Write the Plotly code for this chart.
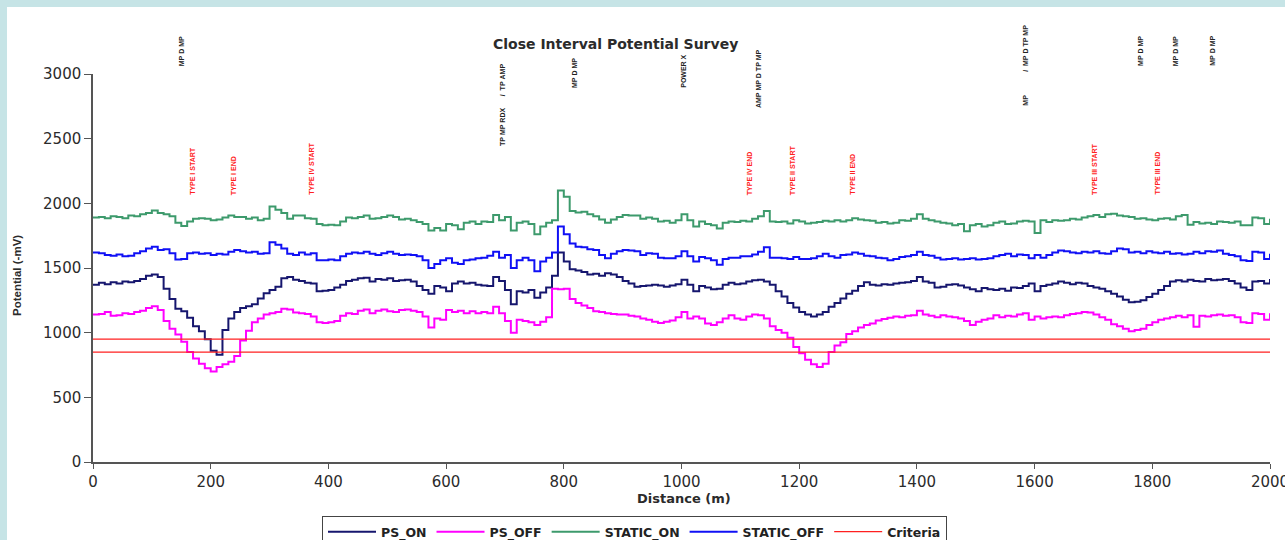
import plotly.graph_objects as go

# ---------------- data ----------------
distance_m = list(range(0, 2001, 10))

static_on = [
    1890, 1895, 1885, 1900, 1895, 1885, 1905, 1900, 1915, 1925,
    1945, 1925, 1915, 1900, 1850, 1825, 1860, 1880, 1885, 1880,
    1870, 1875, 1890, 1905, 1895, 1895, 1880, 1890, 1870, 1880,
    1975, 1950, 1925, 1880, 1905, 1905, 1885, 1880, 1840, 1830,
    1835, 1830, 1860, 1890, 1885, 1895, 1905, 1880, 1885, 1895,
    1905, 1895, 1875, 1880, 1870, 1855, 1840, 1790, 1810, 1790,
    1840, 1830, 1800, 1850, 1860, 1840, 1860, 1855, 1910, 1870,
    1895, 1790, 1850, 1860, 1840, 1760, 1820, 1850, 1870, 2100,
    2050,
    1940, 1930, 1935, 1915, 1900, 1875, 1850, 1875, 1895, 1910,
    1905, 1905, 1880, 1890, 1880, 1860, 1865, 1850, 1870, 1915,
    1870, 1820, 1860, 1840, 1830, 1805, 1850, 1860, 1855, 1865,
    1860, 1880, 1900, 1940, 1860, 1855, 1860, 1845, 1870, 1860,
    1845, 1850, 1855, 1865, 1860, 1870, 1860, 1870, 1885, 1875,
    1870, 1865, 1850, 1855, 1845, 1850, 1870, 1865, 1880, 1915,
    1880, 1870, 1860, 1850, 1845, 1830, 1840, 1785, 1830, 1840,
    1820, 1830, 1850, 1860, 1840, 1845, 1860, 1865, 1860, 1770,
    1870, 1855, 1870, 1865, 1870, 1880, 1875, 1890, 1900, 1910,
    1895, 1915, 1920, 1905, 1900, 1895, 1880, 1885, 1875, 1870,
    1880, 1885, 1875, 1900, 1910, 1835, 1855, 1845, 1850, 1840,
    1860, 1855, 1850, 1860, 1830, 1830, 1890, 1885, 1840, 1880,
]

static_off = [
    1620, 1615, 1600, 1595, 1605, 1590, 1595, 1615, 1630, 1650,
    1665, 1640, 1645, 1615, 1565, 1570, 1615, 1620, 1610, 1615,
    1600, 1610, 1605, 1625, 1640, 1630, 1620, 1625, 1610, 1615,
    1700, 1680, 1650, 1610, 1600, 1620, 1605, 1615, 1560, 1560,
    1565, 1560, 1590, 1610, 1620, 1615, 1625, 1610, 1600, 1615,
    1625, 1610, 1600, 1605, 1600, 1590, 1560, 1500, 1530, 1560,
    1575, 1540, 1530, 1560, 1565, 1575, 1580, 1595, 1625, 1580,
    1600, 1500, 1560, 1580, 1560, 1475, 1550, 1580, 1620, 1820,
    1760,
    1690, 1665, 1660, 1645, 1640, 1600, 1575, 1610, 1630, 1640,
    1635, 1630, 1600, 1615, 1610, 1580, 1575, 1575, 1590, 1630,
    1590, 1550, 1585, 1575, 1560, 1525, 1570, 1580, 1580, 1590,
    1590, 1605, 1625, 1660, 1580, 1580, 1575, 1570, 1585, 1570,
    1570, 1575, 1590, 1610, 1590, 1580, 1600, 1605, 1620, 1610,
    1595, 1590, 1580, 1575, 1560, 1570, 1585, 1590, 1600, 1625,
    1600, 1595, 1580, 1565, 1570, 1575, 1565, 1570, 1575, 1565,
    1570, 1575, 1590, 1600, 1610, 1590, 1605, 1600, 1575, 1600,
    1580, 1600, 1620, 1635, 1630, 1620, 1615, 1625, 1620, 1630,
    1615, 1610, 1630, 1650, 1645, 1620, 1625, 1615, 1630, 1620,
    1615, 1625, 1610, 1615, 1605, 1610, 1625, 1615, 1630, 1625,
    1635, 1610, 1600, 1590, 1560, 1555, 1625, 1620, 1570, 1610,
]

ps_on = [
    1370, 1385, 1375, 1390, 1380, 1395, 1390, 1400, 1415, 1440,
    1450, 1430, 1340, 1260, 1185, 1165, 1115, 1050, 1010, 950,
    860, 830, 1020, 1110, 1160, 1190, 1205, 1220, 1265, 1305,
    1330, 1355, 1420, 1430, 1410, 1400, 1385, 1380, 1320, 1325,
    1330, 1350, 1370, 1400, 1410, 1420, 1425, 1395, 1415, 1410,
    1420, 1400, 1405, 1410, 1395, 1360, 1330, 1300, 1360, 1350,
    1320, 1380, 1395, 1380, 1385, 1370, 1365, 1360, 1430, 1400,
    1330, 1220, 1320, 1310, 1330, 1270, 1310, 1350, 1440, 1620,
    1550,
    1490, 1480, 1470, 1450, 1455, 1440, 1460, 1450, 1430, 1400,
    1380, 1355, 1360, 1365, 1370, 1365, 1355, 1365, 1375, 1410,
    1370, 1320, 1360, 1350, 1335, 1340, 1370, 1385, 1375, 1380,
    1395, 1405, 1410, 1395, 1370, 1320, 1280, 1230, 1195, 1160,
    1140, 1125, 1140, 1160, 1200, 1230, 1265, 1300, 1325, 1360,
    1390, 1370, 1365, 1375, 1370, 1380, 1385, 1390, 1400, 1430,
    1395, 1385, 1350, 1355, 1370, 1375, 1365, 1350, 1335, 1320,
    1345, 1335, 1330, 1340, 1325, 1350, 1345, 1360, 1380, 1320,
    1360, 1370, 1380, 1395, 1385, 1375, 1385, 1380, 1360, 1350,
    1340, 1320, 1300, 1280, 1255, 1235, 1240, 1250, 1275, 1300,
    1330, 1360, 1395, 1405, 1395, 1410, 1400, 1395, 1415, 1405,
    1410, 1415, 1400, 1380, 1350, 1330, 1395, 1400, 1380, 1415,
]

ps_off = [
    1140, 1145, 1160, 1130, 1135, 1150, 1145, 1160, 1170, 1190,
    1205, 1175, 1090, 1030, 985, 930, 850, 800, 760, 725,
    700, 735, 755, 775, 820, 940, 1015, 1080, 1110, 1140,
    1150, 1160, 1185, 1180, 1155, 1150, 1145, 1125, 1080, 1075,
    1080, 1090, 1130, 1150, 1145, 1170, 1180, 1150, 1170, 1180,
    1165, 1160, 1175, 1180, 1170, 1160, 1125, 1040, 1110, 1100,
    1175, 1160, 1170, 1150, 1165, 1150, 1160, 1150, 1200, 1150,
    1090, 1000, 1100, 1090, 1080, 1060, 1085, 1120, 1340, 1335,
    1340,
    1260, 1230, 1210, 1190, 1165, 1160, 1150, 1145, 1140, 1140,
    1130, 1125, 1110, 1100, 1085, 1075, 1085, 1095, 1120, 1160,
    1110, 1125, 1110, 1070, 1060, 1080, 1110, 1135, 1110, 1100,
    1125, 1140, 1135, 1110, 1050, 1020, 1000, 960, 890, 840,
    790, 755, 735, 760, 850, 900, 925, 990, 1010, 1040,
    1060, 1070, 1095, 1105, 1115, 1125, 1120, 1130, 1135, 1170,
    1140, 1130, 1120, 1135, 1125, 1120, 1110, 1090, 1060, 1085,
    1100, 1110, 1135, 1120, 1130, 1125, 1140, 1150, 1100, 1125,
    1110, 1120, 1125, 1120, 1135, 1145, 1150, 1160, 1155, 1140,
    1120, 1100, 1065, 1050, 1030, 1010, 1020, 1030, 1060, 1080,
    1100, 1110, 1120, 1130, 1120, 1135, 1045, 1130, 1125, 1135,
    1140, 1130, 1135, 1120, 1080, 1075, 1150, 1145, 1100, 1150,
]

criteria_levels = [950, 850]

x_ticks = list(range(0, 2001, 200))
y_ticks = list(range(0, 3001, 500))

feature_labels = [
    "MP D MP", "TP MP RDX      /  TP AMP", "MP D MP", "POWER X",
    "AMP MP D TP MP", "MP            /  MP D TP MP", "MP D MP", "MP D MP", "MP D MP",
]
feature_x = [150, 695, 819, 1003, 1131, 1584, 1779, 1839, 1901]

section_labels = [
    "TYPE I START", "TYPE I END", "TYPE IV START", "TYPE IV END",
    "TYPE II START", "TYPE II END", "TYPE III START", "TYPE III END",
]
section_x = [168, 239, 370, 1115, 1188, 1290, 1701, 1808]

# ---------------- layout helpers (pixel geometry) ----------------
W, H = 1285, 540
PL, PR, PT, PB = 93, 1270, 74, 462


def pxx(p):
    return (p - PL) / (PR - PL)


def pyy(p):
    return (PB - p) / (PB - PT)


feature_bottom_px = [68, 148, 90, 90, 110, 108, 68, 68, 68]
section_bottom_px = 197

AX = "#555555"
TXT = "#2b2b2b"

fig = go.Figure()

series = [
    ("PS_ON", ps_on, "#16166e"),
    ("PS_OFF", ps_off, "#ff00ff"),
    ("STATIC_ON", static_on, "#3d9a6c"),
    ("STATIC_OFF", static_off, "#1010f5"),
]
for name, vals, col in series:
    fig.add_trace(go.Scatter(
        x=distance_m, y=vals, name=name, mode="lines",
        line=dict(color=col, width=2, shape="hv"), hoverinfo="skip",
    ))

cx, cy = [], []
for lvl in criteria_levels:
    cx += [x_ticks[0], x_ticks[-1], None]
    cy += [lvl, lvl, None]
fig.add_trace(go.Scatter(
    x=cx, y=cy, name="Criteria", mode="lines",
    line=dict(color="#ff2020", width=1.2), hoverinfo="skip",
))

annotations = []
for lbl, xv, bp in zip(feature_labels, feature_x, feature_bottom_px):
    annotations.append(dict(
        x=xv, xref="x", y=pyy(bp), yref="paper",
        text="<b>" + lbl.replace(" ", "\u00a0") + "</b>", textangle=-90, showarrow=False,
        xanchor="center", yanchor="bottom",
        font=dict(family="Liberation Sans, Arial", size=7, color="#222222"),
    ))
for lbl, xv in zip(section_labels, section_x):
    annotations.append(dict(
        x=xv, xref="x", y=pyy(section_bottom_px), yref="paper",
        text="<b>" + lbl.replace(" ", "\u00a0") + "</b>", textangle=-90, showarrow=False,
        xanchor="center", yanchor="bottom",
        font=dict(family="Liberation Sans, Arial", size=7, color="#ff2020"),
    ))

annotations.append(dict(
    x=pxx(615), xref="paper", y=pyy(44), yref="paper",
    text="<b>Close Interval Potential Survey</b>", showarrow=False,
    xanchor="center", yanchor="middle",
    font=dict(family="DejaVu Sans", size=14, color=TXT),
))
annotations.append(dict(
    x=pxx(684), xref="paper", y=pyy(498), yref="paper",
    text="<b>Distance (m)</b>", showarrow=False,
    xanchor="center", yanchor="middle",
    font=dict(family="DejaVu Sans", size=13, color=TXT),
))
annotations.append(dict(
    x=pxx(17), xref="paper", y=pyy(276), yref="paper",
    text="<b>Potential (-mV)</b>", showarrow=False, textangle=-90,
    xanchor="center", yanchor="middle",
    font=dict(family="Liberation Sans, Arial", size=11.5, color=TXT),
))

shapes = [
    dict(type="rect", xref="paper", yref="paper", layer="above",
         x0=pxx(0), x1=pxx(W), y0=pyy(0), y1=pyy(7),
         fillcolor="#c6e4e6", line=dict(width=0)),
    dict(type="rect", xref="paper", yref="paper", layer="above",
         x0=pxx(0), x1=pxx(7), y0=pyy(0), y1=pyy(H),
         fillcolor="#c6e4e6", line=dict(width=0)),
]

fig.update_layout(
    width=W, height=H, autosize=False,
    margin=dict(l=PL, r=W - PR, t=PT, b=H - PB, autoexpand=False),
    paper_bgcolor="white", plot_bgcolor="white",
    showlegend=True,
    legend=dict(
        orientation="h", x=pxx(322), xanchor="left", y=pyy(516), yanchor="top",
        bordercolor="#444444", borderwidth=1, bgcolor="white",
        font=dict(family="DejaVu Sans", size=12.5, color="#222222", weight="bold"),
        itemwidth=48,
    ),
    annotations=annotations,
    shapes=shapes,
    hovermode=False,
)

fig.update_xaxes(
    range=[0, 2000], tickvals=x_ticks, ticks="outside", ticklen=5, tickwidth=1.3,
    tickcolor=AX, showline=True, linecolor=AX, linewidth=1.5, showgrid=False,
    zeroline=False, ticklabeloverflow="allow",
    tickfont=dict(family="DejaVu Sans", size=15, color=TXT),
)
fig.update_yaxes(
    range=[0, 3000], tickvals=y_ticks, ticks="outside", ticklen=7, tickwidth=1.3,
    tickcolor=AX, showline=True, linecolor=AX, linewidth=1.5, showgrid=False,
    zeroline=False, tickfont=dict(family="DejaVu Sans", size=15, color=TXT),
)

fig.write_html(
    "out.html",
    config={"displayModeBar": False},
    post_script="document.body.style.margin='0';",
)
